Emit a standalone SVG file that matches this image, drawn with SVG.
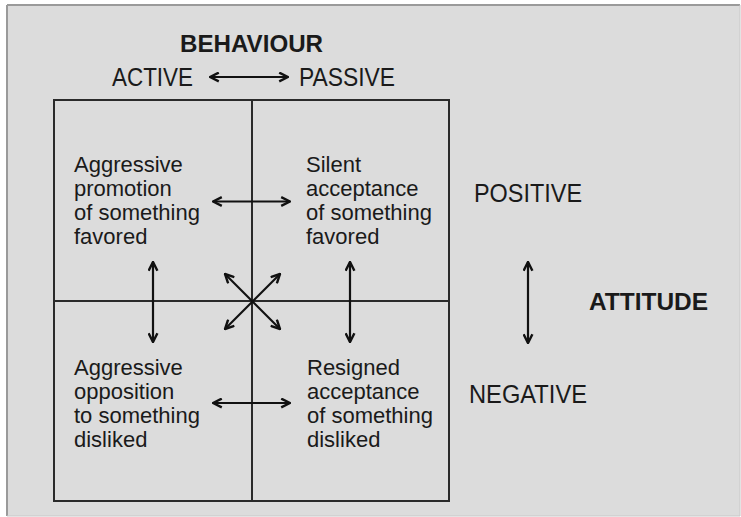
<svg xmlns="http://www.w3.org/2000/svg" width="741" height="517" viewBox="0 0 741 517">
<style>
.t{font-family:"Liberation Sans",Arial,sans-serif;font-size:22px;fill:#1a1a1a}
.c{font-size:25px}
.b{font-weight:bold;font-size:24px}
.g{fill:none;stroke:#2a2a2a;stroke-width:2}
.a{fill:none;stroke:#111;stroke-width:2.2}
</style>
<defs>
<marker id="ah" viewBox="0 0 10 10" refX="9" refY="5" markerWidth="11" markerHeight="11" markerUnits="userSpaceOnUse" orient="auto-start-reverse">
<path d="M1,1 L9,5 L1,9" fill="none" stroke="#111" stroke-width="2.2"/>
</marker>
</defs>
<rect x="0" y="0" width="741" height="517" fill="#ffffff"/>
<rect x="7" y="5" width="733" height="511" fill="#dcdcdc"/>
<line x1="7" y1="5" x2="740" y2="5" stroke="#9a9a9a" stroke-width="2"/>
<line x1="7" y1="5" x2="7" y2="516" stroke="#9a9a9a" stroke-width="2"/>
<line x1="740" y1="5" x2="740" y2="516" stroke="#c8c8c8" stroke-width="1"/>
<line x1="7" y1="516" x2="740" y2="516" stroke="#c8c8c8" stroke-width="1"/>

<g id="behaviour">
<text class="t b" x="180" y="52" textLength="143" lengthAdjust="spacingAndGlyphs">BEHAVIOUR</text>
<text class="t c" x="112" y="86" textLength="81" lengthAdjust="spacingAndGlyphs">ACTIVE</text>
<text class="t c" x="299" y="86" textLength="96" lengthAdjust="spacingAndGlyphs">PASSIVE</text>
</g>
<g id="grid">
<rect class="g" x="54" y="100" width="395" height="401"/>
<line class="g" x1="252" y1="100" x2="252" y2="501"/>
<line class="g" x1="54" y1="301" x2="449" y2="301"/>
</g>
<g id="q1">
<text class="t" x="74" y="172">Aggressive</text>
<text class="t" x="74" y="196">promotion</text>
<text class="t" x="74" y="220">of something</text>
<text class="t" x="74" y="244">favored</text>
</g>
<g id="q2">
<text class="t" x="306" y="172">Silent</text>
<text class="t" x="306" y="196">acceptance</text>
<text class="t" x="306" y="220">of something</text>
<text class="t" x="306" y="244">favored</text>
</g>
<g id="q3">
<text class="t" x="74" y="375">Aggressive</text>
<text class="t" x="74" y="399">opposition</text>
<text class="t" x="74" y="423">to something</text>
<text class="t" x="74" y="447">disliked</text>
</g>
<g id="q4">
<text class="t" x="307" y="375">Resigned</text>
<text class="t" x="307" y="399">acceptance</text>
<text class="t" x="307" y="423">of something</text>
<text class="t" x="307" y="447">disliked</text>
</g>
<g id="attitude">
<text class="t c" x="474" y="202" textLength="108" lengthAdjust="spacingAndGlyphs">POSITIVE</text>
<text class="t c" x="469" y="403" textLength="118" lengthAdjust="spacingAndGlyphs">NEGATIVE</text>
<text class="t b" x="589" y="310" textLength="119" lengthAdjust="spacingAndGlyphs">ATTITUDE</text>
</g>
<g id="connectors">
<line class="a" x1="210" y1="77" x2="288" y2="77" marker-start="url(#ah)" marker-end="url(#ah)"/>
<line class="a" x1="213" y1="201.5" x2="290" y2="201.5" marker-start="url(#ah)" marker-end="url(#ah)"/>
<line class="a" x1="213" y1="403" x2="290" y2="403" marker-start="url(#ah)" marker-end="url(#ah)"/>
<line class="a" x1="153" y1="262" x2="153" y2="342" marker-start="url(#ah)" marker-end="url(#ah)"/>
<line class="a" x1="350" y1="262" x2="350" y2="342" marker-start="url(#ah)" marker-end="url(#ah)"/>
<line class="a" x1="528" y1="262" x2="528" y2="343" marker-start="url(#ah)" marker-end="url(#ah)"/>
<line class="a" x1="225" y1="274" x2="280" y2="329" marker-start="url(#ah)" marker-end="url(#ah)"/>
<line class="a" x1="280" y1="274" x2="225" y2="329" marker-start="url(#ah)" marker-end="url(#ah)"/>
</g>
</svg>
